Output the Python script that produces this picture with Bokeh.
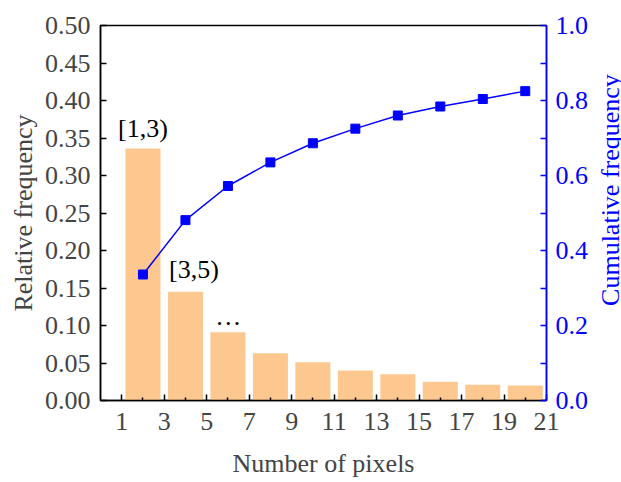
import math
from bokeh.plotting import figure
from bokeh.layouts import row
from bokeh.models import LinearAxis, Range1d, FixedTicker, NumeralTickFormatter, Label
from bokeh.core.properties import value
from bokeh.embed import file_html
from bokeh.resources import INLINE

# Data
pixels = [2, 4, 6, 8, 10, 12, 14, 16, 18, 20]
relative_freq = [0.336, 0.145, 0.091, 0.063, 0.051, 0.040, 0.035, 0.025, 0.021, 0.020]
cumulative_freq = [0.336, 0.481, 0.572, 0.635, 0.686, 0.725, 0.760, 0.784, 0.804, 0.825]
x_ticks = [1, 3, 5, 7, 9, 11, 13, 15, 17, 19, 21]
x_minor = [2, 4, 6, 8, 10, 12, 14, 16, 18, 20]
left_ticks = [0.0, 0.05, 0.10, 0.15, 0.20, 0.25, 0.30, 0.35, 0.40, 0.45, 0.50]
right_ticks = [0.0, 0.2, 0.4, 0.6, 0.8, 1.0]
right_minor = [0.1, 0.3, 0.5, 0.7, 0.9]
ann_text = ["[1,3)", "[3,5)", "\u2026"]
ann_x = [2.0, 4.4, 6.02]
ann_y = [0.363, 0.175, 0.112]
right_title = "Cumulative frequency"

FONT = "Liberation Serif"
FS = "26px"
BLUE = "#0000FF"
BAR = "#FCC890"

p = figure(width=587, height=482, output_backend="svg", toolbar_location=None,
           x_range=Range1d(0, 21), y_range=Range1d(0, 0.5),
           min_border_left=100, min_border_right=41, min_border_top=25, min_border_bottom=82)
p.frame_width = 446
p.frame_height = 375
p.xgrid.visible = False
p.ygrid.visible = False
p.outline_line_color = "black"
p.outline_line_width = 1.5
p.background_fill_color = "white"
p.border_fill_color = "white"

p.extra_y_ranges = {"cum": Range1d(0, 1.0)}

p.vbar(x=pixels, top=relative_freq, width=1.65, fill_color=BAR, line_color=None)
p.line(x=pixels, y=cumulative_freq, y_range_name="cum", line_color=BLUE, line_width=1.5)
p.scatter(x=pixels, y=cumulative_freq, y_range_name="cum", marker="square", size=9,
          fill_color=BLUE, line_color=BLUE)

p.text(x=ann_x, y=ann_y, text=ann_text, text_font=value(FONT), text_font_size=FS,
       text_align="center", text_baseline="alphabetic", text_color="black")

# X axis
xa = p.xaxis[0]
xa.ticker = FixedTicker(ticks=x_ticks, minor_ticks=x_minor)
xa.axis_label = "Number of pixels"
xa.axis_label_text_font = FONT
xa.axis_label_text_font_size = FS
xa.axis_label_text_font_style = "normal"
xa.axis_label_standoff = 16
xa.major_label_text_font = FONT
xa.major_label_text_font_size = FS
xa.major_label_standoff = 12
xa.major_tick_in = 6
xa.major_tick_out = 0
xa.minor_tick_in = 3
xa.minor_tick_out = 0
xa.axis_line_width = 1.5
xa.major_tick_line_width = 1.5
xa.minor_tick_line_width = 1.5

# Left Y axis
ya = p.yaxis[0]
ya.ticker = FixedTicker(ticks=left_ticks, minor_ticks=[])
ya.formatter = NumeralTickFormatter(format="0.00")
ya.axis_label = "Relative frequency"
ya.axis_label_text_font = FONT
ya.axis_label_text_font_size = FS
ya.axis_label_text_font_style = "normal"
ya.axis_label_standoff = 4
ya.major_label_text_font = FONT
ya.major_label_text_font_size = FS
ya.major_label_standoff = 10
ya.major_tick_in = 6
ya.major_tick_out = 0
ya.axis_line_width = 1.5
ya.major_tick_line_width = 1.5

# Right Y axis
ra = LinearAxis(y_range_name="cum")
ra.ticker = FixedTicker(ticks=right_ticks, minor_ticks=right_minor)
ra.formatter = NumeralTickFormatter(format="0.0")
ra.major_label_text_font = FONT
ra.major_label_text_font_size = FS
ra.major_label_text_color = BLUE
ra.major_label_standoff = 9
ra.major_tick_in = 6
ra.major_tick_out = 0
ra.minor_tick_in = 6
ra.minor_tick_out = 0
ra.axis_line_color = BLUE
ra.major_tick_line_color = BLUE
ra.minor_tick_line_color = BLUE
ra.axis_line_width = 1.5
ra.major_tick_line_width = 1.5
ra.minor_tick_line_width = 1.5
p.add_layout(ra, "right")

# Narrow strip holding the right axis title (reads bottom to top)
p2 = figure(width=34, height=482, output_backend="svg", toolbar_location=None,
            x_range=Range1d(0, 34), y_range=Range1d(0, 482),
            min_border=0, min_border_left=0, min_border_right=0,
            min_border_top=0, min_border_bottom=0)
p2.axis.visible = False
p2.grid.visible = False
p2.outline_line_color = None
p2.background_fill_color = "white"
p2.border_fill_color = "white"
p2.add_layout(Label(x=19, y=270.5, text=right_title, angle=math.pi / 2,
                    text_font=FONT, text_font_size=FS, text_color=BLUE,
                    text_align="center", text_baseline="middle"))

layout = row(p, p2, spacing=0)
open("out.html", "w").write(file_html(layout, INLINE))
